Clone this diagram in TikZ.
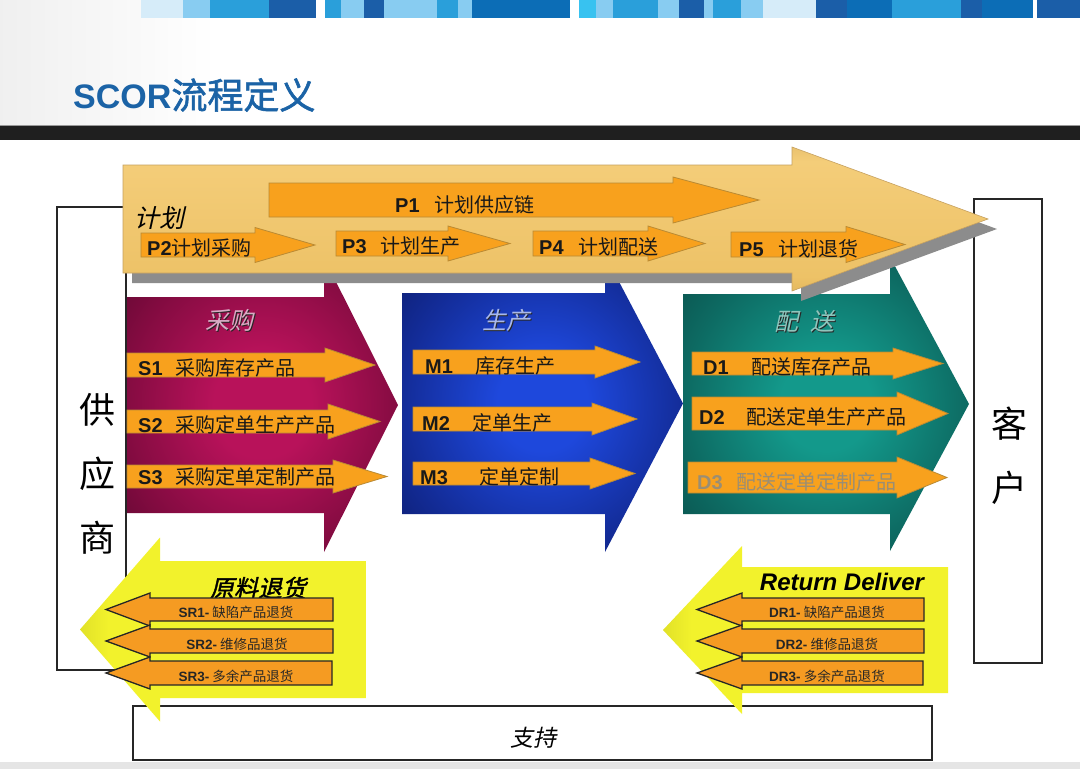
\documentclass[tikz,border=0pt]{standalone}
\usepackage{fontspec}
\setmainfont{Noto Sans CJK SC}[AutoFakeBold=1.6, AutoFakeSlant=0.22]
\newfontfamily\latinfont{Liberation Sans}
\usepackage{tikz}
\usetikzlibrary{calc}
\definecolor{scorblue}{HTML}{1B63A6}
\definecolor{headgray}{HTML}{C8C8C8}
\definecolor{stripvlight}{HTML}{D6ECF9}
\definecolor{striplight}{HTML}{88CCF1}
\definecolor{stripmid}{HTML}{2A9FDA}
\definecolor{stripdark}{HTML}{1B5EA8}
\definecolor{stripdeep}{HTML}{0C6DB6}
\definecolor{stripcyan}{HTML}{38C2F0}
\definecolor{taskorange}{HTML}{F8A11D}
\definecolor{taskedge}{HTML}{B98A34}
\definecolor{returnorange}{HTML}{F59B22}
\definecolor{golddark}{HTML}{B88A38}
\definecolor{goldlight}{HTML}{EDC267}
\definecolor{goldpale}{HTML}{F4CD79}
\definecolor{maroondark}{HTML}{4A0628}
\definecolor{maroonmid}{HTML}{820B40}
\definecolor{maroonlight}{HTML}{B8125A}
\definecolor{maroonpale}{HTML}{D8ABC4}
\definecolor{navydark}{HTML}{091456}
\definecolor{navymid}{HTML}{132C98}
\definecolor{navylight}{HTML}{1E48DC}
\definecolor{navypale}{HTML}{A8B8EA}
\definecolor{tealdark}{HTML}{08403D}
\definecolor{tealmid}{HTML}{0D6A62}
\definecolor{teallight}{HTML}{13998B}
\definecolor{tealpale}{HTML}{8FC6BD}
\definecolor{olivedark}{HTML}{8E8E14}
\definecolor{yellowbright}{HTML}{F2F22C}
\definecolor{yellowgold}{HTML}{D8C634}
\definecolor{fadedtext}{HTML}{9A8E74}

% shadings of the big stage arrows
\pgfdeclareradialshading{sourceglow}{\pgfpoint{0bp}{0bp}}{color(0bp)=(maroonlight); color(9bp)=(maroonlight); color(26bp)=(maroonmid); color(42bp)=(maroondark); color(50bp)=(maroondark)}
\pgfdeclareradialshading{makeglow}{\pgfpoint{0bp}{0bp}}{color(0bp)=(navylight); color(8bp)=(navylight); color(25bp)=(navymid); color(42bp)=(navydark); color(50bp)=(navydark)}
\pgfdeclareradialshading{deliverglow}{\pgfpoint{0bp}{0bp}}{color(0bp)=(teallight); color(8bp)=(teallight); color(25bp)=(tealmid); color(42bp)=(tealdark); color(50bp)=(tealdark)}
\pgfdeclareverticalshading{planglow}{100bp}{color(0bp)=(golddark); color(30bp)=(goldlight); color(70bp)=(goldpale); color(100bp)=(golddark)}
\pgfdeclarehorizontalshading{returnglow}{100bp}{color(0bp)=(olivedark); color(30bp)=(yellowbright); color(85bp)=(yellowbright); color(100bp)=(yellowgold)}
\pgfdeclarehorizontalshading{headfade}{100bp}{color(0bp)=(headgray); color(35bp)=(white); color(100bp)=(white)}

% block arrow: [style]{start x}{top y}{bottom y}{head x}{head extra}{tip x}
\newcommand{\blockarrow}[7][]{%
  \path[#1] (#2,#3) -- (#5,#3) -- (#5,{#3-#6}) -- (#7,{(#3+#4)/2})
    -- (#5,{#4+#6}) -- (#5,#4) -- (#2,#4) -- cycle;}
\newcommand{\pcode}[1]{{\latinfont\bfseries #1}}

\begin{document}
\begin{tikzpicture}[
  x=1pt, y=-1pt,
  taskarrow/.style={fill=taskorange, draw=taskedge, line width=0.8pt},
  backarrow/.style={fill=returnorange, draw=black!85, line width=1.3pt},
  tasklbl/.style={anchor=west, inner sep=0pt, text=black!90,
              font=\fontsize{20}{24}\selectfont},
  retlbl/.style={inner sep=0pt, text=black!85,
              font=\fontsize{13.5}{16}\selectfont},
  stagelbl/.style={inner sep=0pt, font=\itshape\fontsize{24}{28}\selectfont},
  partylbl/.style={align=center, inner sep=0pt,
              font=\fontsize{36}{64}\selectfont},
  framebox/.style={draw=black!85, line width=1.2pt, fill=white}
]
\useasboundingbox (0,0) rectangle (1080,769);

% ── Header: fade, colour strip, title, dark bar ──
\fill[white] (0,0) rectangle (1080,769);
\path[shading=headfade] (0,0) rectangle (1080,125);
\foreach \xa/\xb/\col in {141/183/stripvlight, 183/210/striplight,
    210/269/stripmid, 269/316/stripdark, 325/341/stripmid,
    341/364/striplight, 364/384/stripdark, 384/437/striplight,
    437/458/stripmid, 458/472/striplight, 472/570/stripdeep,
    579/596/stripcyan, 596/613/striplight, 613/658/stripmid,
    658/679/striplight, 679/704/stripdark, 704/713/striplight,
    713/741/stripmid, 741/763/striplight, 763/816/stripvlight,
    816/847/stripdark, 847/892/stripdeep, 892/961/stripmid,
    961/982/stripdark, 982/1033/stripdeep, 1037/1080/stripdark}
  \fill[\col] (\xa,0) rectangle (\xb,18);
\node[anchor=west, inner sep=0pt, text=scorblue,
  font=\bfseries\fontsize{36}{38}\selectfont] (title) at (73,95)
  {{\latinfont\fontsize{34}{36}\selectfont SCOR}流程定义};
\fill[black!88] (0,125) rectangle (1080,140);
\draw[black!40, line width=1.5pt] (0,125.5) -- (1080,125.5);
\fill[black!10] (0,762) rectangle (1080,769);

% ── Frames: supplier, customer, support ──
\draw[framebox] (57,207) rectangle (126,670);
\draw[framebox] (974,199) rectangle (1042,663);
\draw[framebox] (133,706) rectangle (932,760);
\node[partylbl] (supplier) at (97,474) {供\\应\\商};
\node[partylbl] (customer) at (1009,456) {客\\户};
\node[stagelbl, font=\itshape\fontsize{23}{26}\selectfont] (support)
  at (533,738) {支持};

% ── Source (采购) ──
\blockarrow[shading=sourceglow]{127}{297}{513}{324}{39}{398}
\node[stagelbl, text=black!85] at (230.5,321.5) {采购};
\node[stagelbl, text=maroonpale] (srclbl) at (229,320) {采购};
\blockarrow[taskarrow]{127}{353}{377}{325}{5}{375}
\blockarrow[taskarrow]{127}{410}{433}{328}{6}{380}
\blockarrow[taskarrow]{127}{465}{488}{333}{5}{387}
\node[tasklbl] (s1) at (138,368) {\pcode{S1}\hspace{13pt}采购库存产品};
\node[tasklbl] (s2) at (138,425) {\pcode{S2}\hspace{13pt}采购定单生产产品};
\node[tasklbl] (s3) at (138,477) {\pcode{S3}\hspace{13pt}采购定单定制产品};

% ── Make (生产) ──
\blockarrow[shading=makeglow]{402}{293}{514}{605}{38}{683}
\node[stagelbl, text=black!85] at (507.5,321.5) {生产};
\node[stagelbl, text=navypale] (makelbl) at (506,320) {生产};
\blockarrow[taskarrow]{413}{350}{374}{595}{4}{640}
\blockarrow[taskarrow]{413}{407}{431}{592}{4}{637}
\blockarrow[taskarrow]{413}{462}{485}{590}{4}{635}
\node[tasklbl] (m1) at (425,366) {\pcode{M1}\hspace{23pt}库存生产};
\node[tasklbl] (m2) at (422,423) {\pcode{M2}\hspace{23pt}定单生产};
\node[tasklbl] (m3) at (420,477) {\pcode{M3}\hspace{32pt}定单定制};

% ── Deliver (配送) ──
\blockarrow[shading=deliverglow]{683}{294}{514}{890}{37}{969}
\node[stagelbl, text=black!85] at (805.5,322.5) {配\hspace{12pt}送};
\node[stagelbl, text=tealpale] (dellbl) at (804,321) {配\hspace{12pt}送};
\blockarrow[taskarrow]{692}{352}{375}{893}{4}{943}
\blockarrow[taskarrow]{692}{397}{430}{897}{5}{948}
\blockarrow[taskarrow]{688}{462}{493}{897}{5}{947}
\node[tasklbl] (d1) at (703,367) {\pcode{D1}\hspace{23pt}配送库存产品};
\node[tasklbl] (d2) at (699,417) {\pcode{D2}\hspace{22pt}配送定单生产产品};
\node[tasklbl, text=fadedtext] (d3) at (697,482)
  {{\latinfont\bfseries D3}\hspace{14pt}配送定单定制产品};

% ── Plan (计划) — shadow first, then the gold arrow ──
\blockarrow[fill=black!45]{132}{175}{283}{801}{18}{997}
\blockarrow[shading=planglow, draw=golddark!80, line width=0.6pt]
  {123}{165}{273}{792}{18}{988}
\node[stagelbl, anchor=west, font=\itshape\fontsize{25}{28}\selectfont]
  (planlbl) at (134,218) {计划};
\blockarrow[taskarrow]{269}{183}{217}{673}{6}{759}
\blockarrow[taskarrow]{141}{233}{257}{255}{5.5}{315}
\blockarrow[taskarrow]{336}{231}{256}{448}{5}{510}
\blockarrow[taskarrow]{533}{231}{256}{648}{5}{705}
\blockarrow[taskarrow]{731}{232}{257}{846}{5.5}{905}
\node[tasklbl] (p1) at (395,205) {\pcode{P1}\hspace{15pt}计划供应链};
\node[tasklbl] (p2) at (147,248) {\pcode{P2}计划采购};
\node[tasklbl] (p3) at (342,246) {\pcode{P3}\hspace{14pt}计划生产};
\node[tasklbl] (p4) at (539,247) {\pcode{P4}\hspace{15pt}计划配送};
\node[tasklbl] (p5) at (739,249) {\pcode{P5}\hspace{15pt}计划退货};

% ── Return source (原料退货) ──
\blockarrow[shading=returnglow]{366}{561}{698}{160}{23.5}{80}
\node[stagelbl, font=\bfseries\itshape\fontsize{24}{28}\selectfont]
  (srlbl) at (258,588) {原料退货};
\blockarrow[backarrow]{333}{598}{621}{150}{5}{106}
\blockarrow[backarrow]{333}{629}{653}{150}{4}{106}
\blockarrow[backarrow]{332}{661}{685}{150}{4}{106}
\node[retlbl] (sr1) at (236,612) {\pcode{SR1-} 缺陷产品退货};
\node[retlbl] (sr2) at (237,644) {\pcode{SR2-} 维修品退货};
\node[retlbl] (sr3) at (236,676) {\pcode{SR3-} 多余产品退货};

% ── Return deliver ──
\blockarrow[shading=returnglow]{948}{567}{693}{742}{21}{663}
\node[inner sep=0pt, font=\latinfont\bfseries\itshape\fontsize{24}{28}\selectfont]
  (drlbl) at (842,582) {Return Deliver};
\blockarrow[backarrow]{924}{598}{621}{742}{5}{697}
\blockarrow[backarrow]{924}{629}{653}{742}{4}{697}
\blockarrow[backarrow]{923}{661}{685}{742}{4}{697}
\node[retlbl] (dr1) at (827,612) {\pcode{DR1-} 缺陷产品退货};
\node[retlbl] (dr2) at (827,644) {\pcode{DR2-} 维修品退货};
\node[retlbl] (dr3) at (827,676) {\pcode{DR3-} 多余产品退货};

\end{tikzpicture}
\end{document}
